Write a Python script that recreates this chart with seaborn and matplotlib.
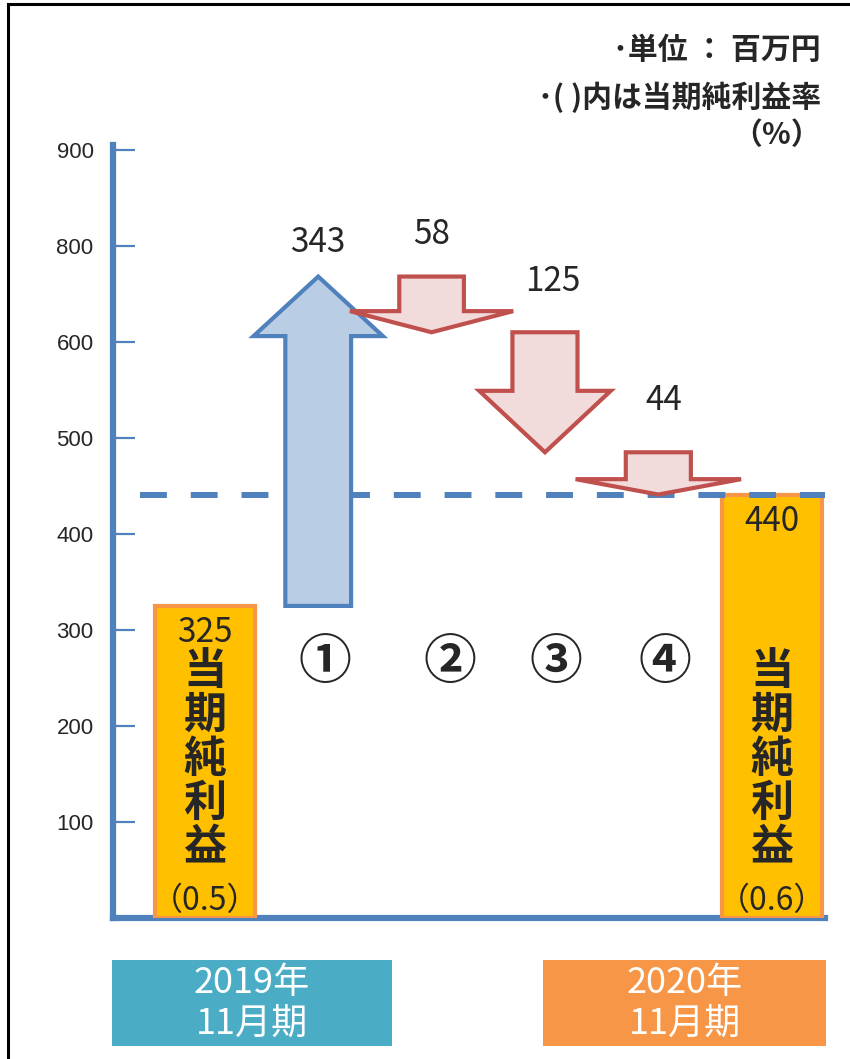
import numpy as np
import pandas as pd
import matplotlib
matplotlib.use('Agg')
import matplotlib.pyplot as plt
import matplotlib.transforms as mtransforms
from matplotlib.patches import Polygon, Rectangle
import seaborn as sns

# ---------------- data ----------------
steps = ['2019年11月期', '①', '②', '③', '④', '2020年11月期']
total_labels = ['2019年11月期', '2020年11月期']
total_values = [325, 440]
total_rates = ['（0.5）', '（0.6）']
change_marks = ['①', '②', '③', '④']
change_values = [343, -58, -125, -44]
y_tick_values = [100, 200, 300, 400, 500, 600, 700, 800]
y_tick_labels = ['100', '200', '300', '400', '500', '600', '800', '900']
period_lines = [['2019年', '11月期'], ['2020年', '11月期']]
notes = ['･単位 ： 百万円', '･( )内は当期純利益率', '（%）']
bar_caption = '当期純利益'

# ---------------- style ----------------
sns.set_style('white')
plt.rcParams['font.family'] = ['Noto Sans CJK JP', 'DejaVu Sans']

AXIS_BLUE = '#4F81BD'
BAR_FILL = '#FFC000'
BAR_EDGE = '#F79646'
UP_FILL, UP_EDGE = '#B9CDE5', '#4F81BD'
DN_FILL, DN_EDGE = '#F2DCDB', '#C0504D'
PERIOD_COLORS = ['#4BACC6', '#F79646']

# arrow geometry (x half-widths in category units, head length in data units)
arrow_shaft_hw = [0.29, 0.285, 0.287, 0.287]
arrow_head_hw = [0.57, 0.72, 0.58, 0.73]
arrow_head_len = [62, 22, 64, 16]
label_offsets = [(0, 12), (0, 18), (6, 24), (4, 25)]
mark_shift = [0.06, 0.16, 0.10, 0.06]

W, H = 850, 1059
fig = plt.figure(figsize=(W / 100, H / 100), dpi=100)
ax = fig.add_axes([113 / W, (H - 918) / H, (825 - 113) / W, (918 - 145) / H])

df = pd.DataFrame({'step': total_labels, 'value': total_values})
sns.barplot(data=df, x='step', y='value', order=steps, color=BAR_FILL,
            saturation=1, width=0.88, edgecolor=BAR_EDGE, linewidth=3,
            ax=ax, zorder=2)

ax.set_xlim(-0.81, 5.47)
ax.set_ylim(0, 805)
ax.set_xlabel('')
ax.set_ylabel('')
ax.set_xticks([])
ax.set_yticks(y_tick_values)
ax.set_yticklabels(y_tick_labels)
for t in ax.get_yticklabels():
    t.set_fontfamily('Liberation Sans')
ax.tick_params(axis='y', direction='in', length=16, width=1.6,
               color=AXIS_BLUE, pad=14, labelsize=16, left=True)
for s in ['top', 'right']:
    ax.spines[s].set_visible(False)
for s in ['left', 'bottom']:
    ax.spines[s].set_color(AXIS_BLUE)
    ax.spines[s].set_linewidth(4.5)
    ax.spines[s].set_zorder(1)

# dashed reference line at final value
ax.axhline(total_values[1], xmin=(140 - 113) / 712, xmax=1, color=AXIS_BLUE,
           lw=4.3, dashes=(4.5, 4), zorder=3)

# waterfall arrows
level = total_values[0]
for i, (mark, v) in enumerate(zip(change_marks, change_values)):
    x = steps.index(mark)
    y0, y1 = level, level + v
    d = np.sign(v)
    base = y1 - d * arrow_head_len[i]
    sw, hw = arrow_shaft_hw[i], arrow_head_hw[i]
    pts = [(x - sw, y0), (x - sw, base), (x - hw, base), (x, y1),
           (x + hw, base), (x + sw, base), (x + sw, y0)]
    fc, ec = (UP_FILL, UP_EDGE) if v > 0 else (DN_FILL, DN_EDGE)
    ax.add_patch(Polygon(pts, closed=True, facecolor=fc, edgecolor=ec,
                         lw=3, joinstyle='miter', zorder=4))
    ax.annotate(f'{abs(v)}', xy=(x, max(y0, y1)), xytext=label_offsets[i],
                textcoords='offset points', ha='center', va='bottom',
                fontsize=24, zorder=6)
    level = y1

blend = mtransforms.blended_transform_factory(ax.transData, ax.transAxes)

# circled step numbers
for i, mark in enumerate(change_marks):
    ax.text(steps.index(mark) + mark_shift[i], 0.331, mark, transform=blend,
            ha='center', va='center', fontsize=38, fontweight='bold', zorder=6)

# text inside total bars
for lab, val, rate in zip(total_labels, total_values, total_rates):
    x = steps.index(lab)
    ax.annotate(f'{val}', xy=(x, val), xytext=(0, -19),
                textcoords='offset points', ha='center', va='center',
                fontsize=24, zorder=6)
    for k, ch in enumerate(bar_caption):
        ax.annotate(ch, xy=(x, 0.3195), xycoords=blend, xytext=(0, -k * 31.7),
                    textcoords='offset points', ha='center', va='center',
                    fontsize=31, fontweight='bold', zorder=6)
    ax.text(x, 0.022, rate, transform=blend, ha='center', va='center',
            fontsize=23, zorder=6)

# notes top right
note_y = [50, 97, 135]
for txt, yy in zip(notes, note_y):
    fig.text(821 / W, 1 - yy / H, txt, ha='right', va='center',
             fontsize=21.5, fontweight='bold')

# period boxes
box_x = [(112, 392), (543, 826)]
for (x0, x1), col, lines in zip(box_x, PERIOD_COLORS, period_lines):
    fig.patches.append(Rectangle((x0 / W, (H - 1046) / H), (x1 - x0) / W,
                                 86 / H, transform=fig.transFigure,
                                 facecolor=col, edgecolor='none'))
    for ln, yy in zip(lines, [983, 1025]):
        fig.text((x0 + x1) / 2 / W, 1 - yy / H, ln, ha='center', va='center',
                 fontsize=26, color='white')

# outer frame
fig.patches.append(Rectangle((8 / W, -0.1), 1.2, (H - 4) / H + 0.1,
                             transform=fig.transFigure, fill=False,
                             edgecolor='black', lw=2.2))

fig.savefig('out.png', dpi=100)
